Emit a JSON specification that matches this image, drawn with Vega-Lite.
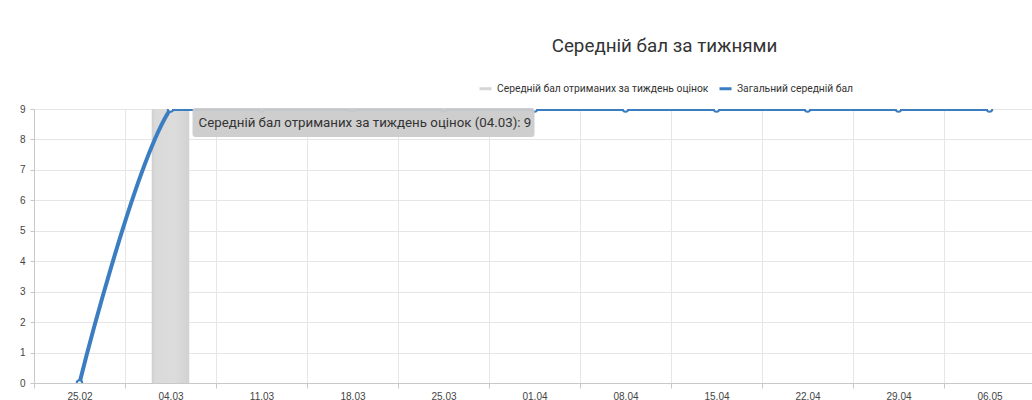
{
  "$schema": "https://vega.github.io/schema/vega-lite/v6.json",
  "autosize": "none",
  "width": 1001,
  "height": 274,
  "padding": {"left": 34, "top": 109, "right": 0, "bottom": 17},
  "background": "#ffffff",
  "title": {
    "text": "Середній бал за тижнями",
    "anchor": "middle",
    "dx": 130,
    "offset": 25,
    "font": "Roboto",
    "fontSize": 18.8,
    "fontWeight": "normal",
    "color": "#333333"
  },
  "datasets": {
    "weeks": [
      {"week": "25.02", "weekly": null, "overall": 0},
      {"week": "04.03", "weekly": 9, "overall": 9},
      {"week": "11.03", "weekly": null, "overall": 9},
      {"week": "18.03", "weekly": null, "overall": 9},
      {"week": "25.03", "weekly": null, "overall": 9},
      {"week": "01.04", "weekly": null, "overall": 9},
      {"week": "08.04", "weekly": null, "overall": 9},
      {"week": "15.04", "weekly": null, "overall": 9},
      {"week": "22.04", "weekly": null, "overall": 9},
      {"week": "29.04", "weekly": null, "overall": 9},
      {"week": "06.05", "weekly": null, "overall": 9}
    ],
    "tip": [
      {"week": "04.03", "value": 9, "label": "Середній бал отриманих за тиждень оцінок (04.03): 9"}
    ]
  },
  "encoding": {
    "x": {
      "field": "week",
      "type": "nominal",
      "scale": {
        "domain": ["25.02", "04.03", "11.03", "18.03", "25.03", "01.04", "08.04", "15.04", "22.04", "29.04", "06.05"],
        "paddingInner": 0,
        "paddingOuter": 0
      },
      "axis": {
        "title": null,
        "labelAngle": 0,
        "tickBand": "extent",
        "grid": true,
        "gridColor": "#e6e6e6",
        "domainColor": "#c8c8c8",
        "tickColor": "#c8c8c8",
        "tickSize": 5,
        "labelPadding": 3,
        "labelFont": "Liberation Sans",
        "labelFontSize": 10,
        "labelColor": "#444444"
      }
    },
    "y": {
      "field": "overall",
      "type": "quantitative",
      "scale": {"domain": [0, 9], "nice": false},
      "axis": {
        "title": null,
        "values": [0, 1, 2, 3, 4, 5, 6, 7, 8, 9],
        "labelOverlap": false,
        "gridColor": "#e6e6e6",
        "domainColor": "#c8c8c8",
        "tickColor": "#c8c8c8",
        "tickSize": 4,
        "labelPadding": 5,
        "labelFont": "Liberation Sans",
        "labelFontSize": 10,
        "labelColor": "#444444"
      }
    }
  },
  "layer": [
    {
      "data": {"name": "weeks"},
      "mark": {"type": "bar", "width": {"band": 0.41}},
      "encoding": {
        "y": {"field": "weekly", "type": "quantitative"},
        "color": {
          "datum": "Середній бал отриманих за тиждень оцінок",
          "type": "nominal",
          "scale": {
            "domain": ["Середній бал отриманих за тиждень оцінок", "Загальний середній бал"],
            "range": ["#d6d6d6", "#3a7dc0"]
          },
          "legend": {
            "title": null,
            "orient": "none",
            "direction": "horizontal",
            "legendX": 444,
            "legendY": -28,
            "symbolType": "stroke",
            "symbolSize": 144,
            "symbolStrokeWidth": 3,
            "labelFont": "Roboto",
            "labelFontSize": 10.3,
            "labelColor": "#333333",
            "labelLimit": 0,
            "columnPadding": 4,
            "labelOffset": 4,
            "encode": {
              "symbols": {
                "update": {
                  "stroke": {"scale": "color", "field": "value"},
                  "strokeWidth": {"value": 3},
                  "fill": {"value": "transparent"}
                }
              }
            }
          }
        }
      }
    },
    {
      "data": {"name": "weeks"},
      "mark": {
        "type": "bar",
        "width": {"band": 0.41},
        "fill": {
          "gradient": "linear",
          "x1": 0, "x2": 1, "y1": 0, "y2": 0,
          "stops": [
            {"offset": 0, "color": "#cfcfcf"},
            {"offset": 0.1, "color": "#dadada"},
            {"offset": 0.6, "color": "#dcdcdc"},
            {"offset": 1, "color": "#d2d2d2"}
          ]
        }
      },
      "encoding": {
        "y": {"field": "weekly", "type": "quantitative"}
      }
    },
    {
      "data": {"name": "weeks"},
      "transform": [{"filter": {"field": "week", "oneOf": ["25.02", "04.03", "11.03"]}}],
      "mark": {"type": "line", "interpolate": "cardinal", "tension": -0.2, "strokeWidth": 4, "clip": true, "color": "#3a7dc0"},
      "encoding": {
        "color": {"datum": "Загальний середній бал", "type": "nominal"}
      }
    },
    {
      "data": {"name": "weeks"},
      "transform": [{"filter": {"not": {"field": "week", "equal": "25.02"}}}],
      "mark": {"type": "line", "interpolate": "linear", "strokeWidth": 4, "clip": true, "color": "#3a7dc0"},
      "encoding": {
        "color": {"datum": "Загальний середній бал", "type": "nominal"}
      }
    },
    {
      "data": {"name": "weeks"},
      "mark": {"type": "point", "filled": true, "fill": "#ffffff", "stroke": "#3a7dc0", "strokeWidth": 2, "size": 30, "clip": true, "opacity": 1}
    },
    {
      "data": {"name": "tip"},
      "mark": {
        "type": "point",
        "shape": "M25,-1H361Q364,-1 364,2V25Q364,28 361,28H25Q22,28 22,25V2Q22,-1 25,-1Z",
        "size": 4,
        "filled": true,
        "fill": "#cbcbcb",
        "opacity": 0.95,
        "strokeWidth": 0
      },
      "encoding": {
        "y": {"field": "value", "type": "quantitative"}
      }
    },
    {
      "data": {"name": "tip"},
      "mark": {
        "type": "text",
        "align": "left",
        "baseline": "middle",
        "dx": 28,
        "dy": 14,
        "font": "Roboto",
        "fontSize": 13.3,
        "color": "#333333"
      },
      "encoding": {
        "y": {"field": "value", "type": "quantitative"},
        "text": {"field": "label"}
      }
    }
  ],
  "config": {
    "view": {"stroke": null},
    "axisY": {"grid": true}
  }
}
